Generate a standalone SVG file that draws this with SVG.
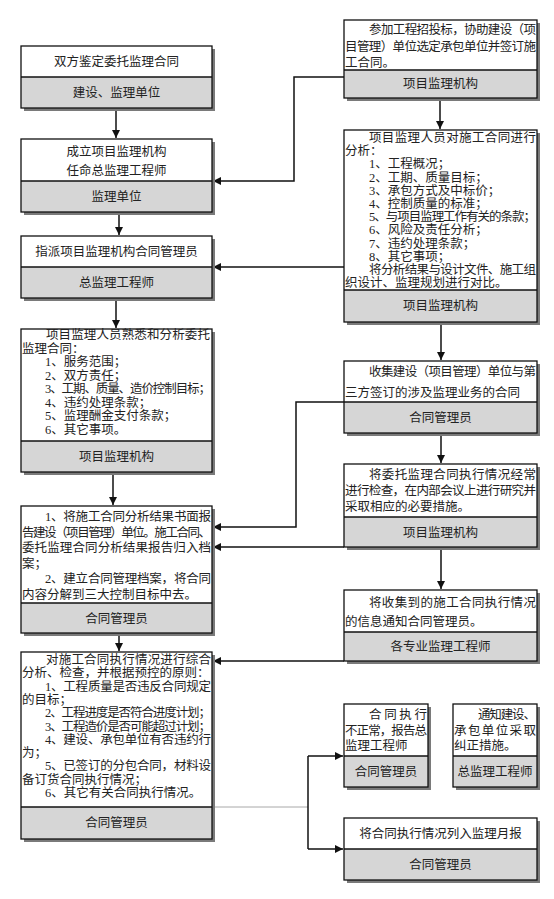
<svg xmlns="http://www.w3.org/2000/svg" width="554" height="899" viewBox="0 0 554 899">
<style>
.bg{fill:#ffffff}
.sh{fill:#7a7a7a}
.bd{fill:#ffffff}
.lb{fill:#d6d6d6}
.fr{fill:none;stroke:#111;stroke-width:1.3}
.dv{stroke:#111;stroke-width:1.3}
.t{font-family:"Liberation Serif","Noto Sans CJK SC",serif;font-size:12.5px;fill:#222;dominant-baseline:central}
.c{text-anchor:middle}
.cn{fill:none;stroke:#111;stroke-width:1.5}
.thin{fill:none;stroke:#a8a8a8;stroke-width:1}
</style>
<defs>
<marker id="ah" markerWidth="8" markerHeight="8" refX="8" refY="4" orient="auto" markerUnits="userSpaceOnUse">
<path d="M0,0 L8,4 L0,8 z" fill="#111"/>
</marker>
</defs>
<rect class="bg" x="0" y="0" width="554" height="899"/>

<g id="connectors">
<line class="cn" x1="116" y1="108" x2="116" y2="138" marker-end="url(#ah)"/>
<line class="cn" x1="119" y1="212" x2="119" y2="235" marker-end="url(#ah)"/>
<line class="cn" x1="116" y1="298" x2="116" y2="328" marker-end="url(#ah)"/>
<line class="cn" x1="113" y1="472" x2="113" y2="505" marker-end="url(#ah)"/>
<line class="cn" x1="119" y1="633" x2="119" y2="651" marker-end="url(#ah)"/>
<polyline class="cn" points="344,77 294,77 294,181 213,181" marker-end="url(#ah)"/>
<line class="cn" x1="440" y1="98" x2="440" y2="129" marker-end="url(#ah)"/>
<line class="cn" x1="344" y1="267" x2="213" y2="267" marker-end="url(#ah)"/>
<line class="cn" x1="441" y1="322" x2="441" y2="360" marker-end="url(#ah)"/>
<polyline class="cn" points="344,402 296,402 296,527 213,527" marker-end="url(#ah)"/>
<line class="cn" x1="441" y1="433" x2="441" y2="463" marker-end="url(#ah)"/>
<line class="cn" x1="344" y1="547" x2="213" y2="547" marker-end="url(#ah)"/>
<line class="cn" x1="441" y1="547" x2="441" y2="589" marker-end="url(#ah)"/>
<polyline class="cn" points="344,661 213,661" marker-end="url(#ah)"/>
<line class="thin" x1="212" y1="807" x2="308" y2="807"/>
<line class="cn" x1="308" y1="756" x2="308" y2="849"/>
<line class="cn" x1="308" y1="756" x2="343" y2="756" marker-end="url(#ah)"/>
<line class="cn" x1="308" y1="849" x2="343" y2="849" marker-end="url(#ah)"/>
</g>

<g id="nodeA">
<rect class="sh" x="24" y="49" width="191" height="62"/>
<rect class="bd" x="21" y="46" width="191" height="31"/>
<rect class="lb" x="21" y="77" width="191" height="31"/>
<rect class="fr" x="21" y="46" width="191" height="62"/>
<line class="dv" x1="21" y1="77" x2="212" y2="77"/>
<text class="t c" x="116.5" y="62">双方鉴定委托监理合同</text>
<text class="t c" x="116.5" y="93">建设、监理单位</text>
</g>

<g id="nodeB">
<rect class="sh" x="24" y="142" width="191" height="73"/>
<rect class="bd" x="21" y="139" width="191" height="42"/>
<rect class="lb" x="21" y="181" width="191" height="31"/>
<rect class="fr" x="21" y="139" width="191" height="73"/>
<line class="dv" x1="21" y1="181" x2="212" y2="181"/>
<text class="t c" x="116.5" y="152">成立项目监理机构</text>
<text class="t c" x="116.5" y="171">任命总监理工程师</text>
<text class="t c" x="116.5" y="197">监理单位</text>
</g>

<g id="nodeC">
<rect class="sh" x="24" y="239" width="191" height="62"/>
<rect class="bd" x="21" y="236" width="191" height="31"/>
<rect class="lb" x="21" y="267" width="191" height="31"/>
<rect class="fr" x="21" y="236" width="191" height="62"/>
<line class="dv" x1="21" y1="267" x2="212" y2="267"/>
<text class="t c" x="116.5" y="252">指派项目监理机构合同管理员</text>
<text class="t c" x="116.5" y="283">总监理工程师</text>
</g>

<g id="nodeD">
<rect class="sh" x="24" y="332" width="191" height="143"/>
<rect class="bd" x="21" y="329" width="191" height="112"/>
<rect class="lb" x="21" y="441" width="191" height="31"/>
<rect class="fr" x="21" y="329" width="191" height="143"/>
<line class="dv" x1="21" y1="441" x2="212" y2="441"/>
<text class="t" x="46" y="335" textLength="164" lengthAdjust="spacing">项目监理人员熟悉和分析委托</text>
<text class="t" x="22" y="348.5">监理合同：</text>
<text class="t" x="45" y="362">1、服务范围；</text>
<text class="t" x="45" y="375.5">2、双方责任；</text>
<text class="t" x="45" y="389" textLength="166" lengthAdjust="spacing">3、工期、质量、造价控制目标；</text>
<text class="t" x="45" y="402.5">4、违约处理条款；</text>
<text class="t" x="45" y="416">5、监理酬金支付条款；</text>
<text class="t" x="45" y="429.5">6、其它事项。</text>
<text class="t c" x="116.5" y="457">项目监理机构</text>
</g>

<g id="nodeE">
<rect class="sh" x="24" y="509" width="191" height="127"/>
<rect class="bd" x="21" y="506" width="191" height="97"/>
<rect class="lb" x="21" y="603" width="191" height="30"/>
<rect class="fr" x="21" y="506" width="191" height="127"/>
<line class="dv" x1="21" y1="603" x2="212" y2="603"/>
<text class="t" x="45" y="517" textLength="166" lengthAdjust="spacing">1、将施工合同分析结果书面报</text>
<text class="t" x="22" y="532.5" textLength="189" lengthAdjust="spacing">告建设（项目管理）单位。施工合同、</text>
<text class="t" x="22" y="548" textLength="189" lengthAdjust="spacing">委托监理合同分析结果报告归入档</text>
<text class="t" x="22" y="563.5">案；</text>
<text class="t" x="45" y="579" textLength="166" lengthAdjust="spacing">2、建立合同管理档案，将合同</text>
<text class="t" x="22" y="594.5">内容分解到三大控制目标中去。</text>
<text class="t c" x="116.5" y="619">合同管理员</text>
</g>

<g id="nodeF">
<rect class="sh" x="24" y="655" width="191" height="187"/>
<rect class="bd" x="21" y="652" width="191" height="155"/>
<rect class="lb" x="21" y="807" width="191" height="32"/>
<rect class="fr" x="21" y="652" width="191" height="187"/>
<line class="dv" x1="21" y1="807" x2="212" y2="807"/>
<text class="t" x="46" y="660" textLength="165" lengthAdjust="spacing">对施工合同执行情况进行综合</text>
<text class="t" x="22" y="673.3">分析、检查，并根据预控的原则：</text>
<text class="t" x="45" y="686.6" textLength="166" lengthAdjust="spacing">1、工程质量是否违反合同规定</text>
<text class="t" x="22" y="699.9">的目标；</text>
<text class="t" x="45" y="713.2" textLength="166" lengthAdjust="spacing">2、工程进度是否符合进度计划；</text>
<text class="t" x="45" y="726.5" textLength="166" lengthAdjust="spacing">3、工程造价是否可能超过计划；</text>
<text class="t" x="45" y="739.8" textLength="166" lengthAdjust="spacing">4、建设、承包单位有否违约行</text>
<text class="t" x="22" y="753.1">为；</text>
<text class="t" x="45" y="766.4" textLength="166" lengthAdjust="spacing">5、已签订的分包合同，材料设</text>
<text class="t" x="22" y="779.7">备订货合同执行情况；</text>
<text class="t" x="45" y="793">6、其它有关合同执行情况。</text>
<text class="t c" x="116.5" y="823">合同管理员</text>
</g>

<g id="nodeG">
<rect class="sh" x="347" y="23" width="193" height="78"/>
<rect class="bd" x="344" y="20" width="193" height="50"/>
<rect class="lb" x="344" y="70" width="193" height="28"/>
<rect class="fr" x="344" y="20" width="193" height="78"/>
<line class="dv" x1="344" y1="70" x2="537" y2="70"/>
<text class="t" x="369" y="30" textLength="167" lengthAdjust="spacing">参加工程招投标，协助建设（项</text>
<text class="t" x="345" y="47" textLength="191" lengthAdjust="spacing">目管理）单位选定承包单位并签订施</text>
<text class="t" x="345" y="63">工合同。</text>
<text class="t c" x="440.5" y="84">项目监理机构</text>
</g>

<g id="nodeH">
<rect class="sh" x="347" y="133" width="193" height="192"/>
<rect class="bd" x="344" y="130" width="193" height="160"/>
<rect class="lb" x="344" y="290" width="193" height="32"/>
<rect class="fr" x="344" y="130" width="193" height="192"/>
<line class="dv" x1="344" y1="290" x2="537" y2="290"/>
<text class="t" x="369" y="138" textLength="167" lengthAdjust="spacing">项目监理人员对施工合同进行</text>
<text class="t" x="345" y="151.2">分析：</text>
<text class="t" x="369" y="164.4">1、工程概况；</text>
<text class="t" x="369" y="177.6">2、工期、质量目标；</text>
<text class="t" x="369" y="190.8">3、承包方式及中标价；</text>
<text class="t" x="369" y="204">4、控制质量的标准；</text>
<text class="t" x="369" y="217.2" textLength="167" lengthAdjust="spacing">5、与项目监理工作有关的条款；</text>
<text class="t" x="369" y="230.4">6、风险及责任分析；</text>
<text class="t" x="369" y="243.6">7、违约处理条款；</text>
<text class="t" x="369" y="256.8">8、其它事项；</text>
<text class="t" x="369" y="270" textLength="167" lengthAdjust="spacing">将分析结果与设计文件、施工组</text>
<text class="t" x="345" y="283.2">织设计、监理规划进行对比。</text>
<text class="t c" x="440.5" y="306">项目监理机构</text>
</g>

<g id="nodeI">
<rect class="sh" x="347" y="364" width="193" height="72"/>
<rect class="bd" x="344" y="361" width="193" height="41"/>
<rect class="lb" x="344" y="402" width="193" height="31"/>
<rect class="fr" x="344" y="361" width="193" height="72"/>
<line class="dv" x1="344" y1="402" x2="537" y2="402"/>
<text class="t" x="369" y="372" textLength="167" lengthAdjust="spacing">收集建设（项目管理）单位与第</text>
<text class="t" x="345" y="393">三方签订的涉及监理业务的合同</text>
<text class="t c" x="440.5" y="418">合同管理员</text>
</g>

<g id="nodeJ">
<rect class="sh" x="347" y="467" width="193" height="83"/>
<rect class="bd" x="344" y="464" width="193" height="53"/>
<rect class="lb" x="344" y="517" width="193" height="30"/>
<rect class="fr" x="344" y="464" width="193" height="83"/>
<line class="dv" x1="344" y1="517" x2="537" y2="517"/>
<text class="t" x="369" y="475" textLength="167" lengthAdjust="spacing">将委托监理合同执行情况经常</text>
<text class="t" x="345" y="491" textLength="191" lengthAdjust="spacing">进行检查，在内部会议上进行研究并</text>
<text class="t" x="345" y="507">采取相应的必要措施。</text>
<text class="t c" x="440.5" y="533">项目监理机构</text>
</g>

<g id="nodeK">
<rect class="sh" x="347" y="593" width="193" height="71"/>
<rect class="bd" x="344" y="590" width="193" height="42"/>
<rect class="lb" x="344" y="632" width="193" height="29"/>
<rect class="fr" x="344" y="590" width="193" height="71"/>
<line class="dv" x1="344" y1="632" x2="537" y2="632"/>
<text class="t" x="369" y="603" textLength="167" lengthAdjust="spacing">将收集到的施工合同执行情况</text>
<text class="t" x="345" y="622">的信息通知合同管理员。</text>
<text class="t c" x="440.5" y="647">各专业监理工程师</text>
</g>

<g id="nodeL1">
<rect class="sh" x="347" y="707" width="84" height="83"/>
<rect class="bd" x="344" y="704" width="84" height="52"/>
<rect class="lb" x="344" y="756" width="84" height="31"/>
<rect class="fr" x="344" y="704" width="84" height="83"/>
<line class="dv" x1="344" y1="756" x2="428" y2="756"/>
<text class="t" x="369" y="715" textLength="58" lengthAdjust="spacing">合同执行</text>
<text class="t" x="345" y="731" textLength="82" lengthAdjust="spacing">不正常，报告总</text>
<text class="t" x="345" y="746">监理工程师</text>
<text class="t c" x="386" y="772">合同管理员</text>
</g>

<g id="nodeL2">
<rect class="sh" x="456" y="707" width="84" height="83"/>
<rect class="bd" x="453" y="704" width="84" height="52"/>
<rect class="lb" x="453" y="756" width="84" height="31"/>
<rect class="fr" x="453" y="704" width="84" height="83"/>
<line class="dv" x1="453" y1="756" x2="537" y2="756"/>
<text class="t" x="478" y="715" textLength="58" lengthAdjust="spacing">通知建设、</text>
<text class="t" x="454" y="731" textLength="82" lengthAdjust="spacing">承包单位采取</text>
<text class="t" x="454" y="746">纠正措施。</text>
<text class="t c" x="495" y="772">总监理工程师</text>
</g>

<g id="nodeM">
<rect class="sh" x="347" y="821" width="193" height="62"/>
<rect class="bd" x="344" y="818" width="193" height="31"/>
<rect class="lb" x="344" y="849" width="193" height="31"/>
<rect class="fr" x="344" y="818" width="193" height="62"/>
<line class="dv" x1="344" y1="849" x2="537" y2="849"/>
<text class="t c" x="440.5" y="834">将合同执行情况列入监理月报</text>
<text class="t c" x="440.5" y="865">合同管理员</text>
</g>
</svg>
